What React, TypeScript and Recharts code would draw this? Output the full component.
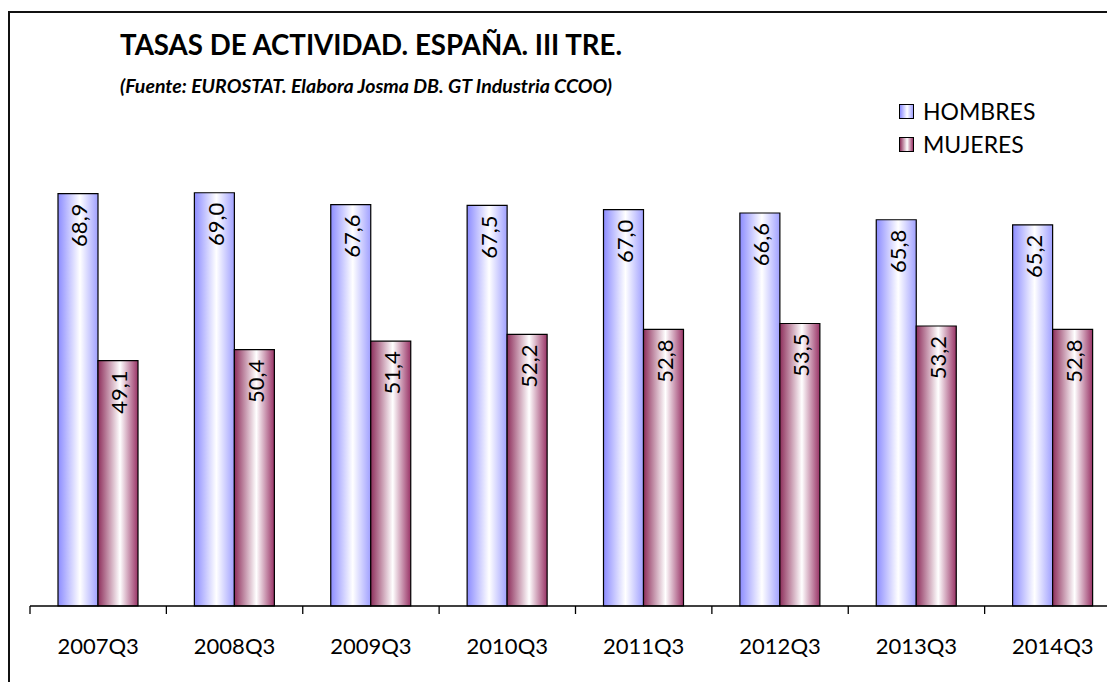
import { BarChart, Bar, XAxis, YAxis, LabelList } from 'recharts'

const periods = ['2007Q3', '2008Q3', '2009Q3', '2010Q3', '2011Q3', '2012Q3', '2013Q3', '2014Q3']
const hombres = [68.9, 69.0, 67.6, 67.5, 67.0, 66.6, 65.8, 65.2]
const mujeres = [49.1, 50.4, 51.4, 52.2, 52.8, 53.5, 53.2, 52.8]
const seriesNames = ['HOMBRES', 'MUJERES']

const data = periods.map((p, i) => ({ name: p, hombres: hombres[i], mujeres: mujeres[i] }))

const FONT = 'Lato, "Open Sans", sans-serif'
const CHART_W = 1135
const MARGIN_L = 30
const MARGIN_R = 14
const BAND = (CHART_W - MARGIN_L - MARGIN_R) / periods.length

const fmt = (v: number) => v.toFixed(1).replace('.', ',')

const BarValue = (props: any) => {
  const { x, y, width, value } = props
  const cx = x + width / 2 + 1
  const ty = y + 10
  return (
    <text
      x={cx}
      y={ty}
      transform={`rotate(-90, ${cx}, ${ty})`}
      textAnchor="end"
      dominantBaseline="central"
      fontSize={22}
      fontFamily={FONT}
      fill="#000"
    >
      {fmt(value)}
    </text>
  )
}

const PeriodTick = (props: any) => {
  const { x, y, payload } = props
  const axisY = y - 8 - 24
  return (
    <g>
      <line x1={x - BAND / 2} y1={axisY} x2={x - BAND / 2} y2={axisY + 8} stroke="#000" strokeWidth={1.3} />
      <text x={x} y={y} dy="0.71em" textAnchor="middle" fontSize={22} fontFamily={FONT} fill="#000">
        {payload.value}
      </text>
    </g>
  )
}

const legendSwatch = [
  'linear-gradient(to right, #8c8cff, #ffffff 55%, #a0a0ff)',
  'linear-gradient(to right, #8e2f5c, #ffffff 55%, #993366)',
]

export default function App() {
  return (
    <div style={{ position: 'fixed', left: 0, top: 0, width: 1107, height: 682, overflow: 'hidden', background: '#fff' }}>
      <div
        style={{
          position: 'absolute',
          left: 8,
          top: 11,
          width: 1200,
          height: 800,
          borderLeft: '2px solid #111',
          borderTop: '2px solid #111',
        }}
      />
      <svg style={{ position: 'absolute', left: 0, top: 0 }} width={700} height={100}>
        <text x={120} y={55} fontFamily={FONT} fontWeight={700} fontSize={28} textLength={502} lengthAdjust="spacingAndGlyphs">
          TASAS DE ACTIVIDAD. ESPAÑA. III TRE.
        </text>
        <text
          x={120}
          y={93}
          fontFamily={FONT}
          fontWeight={700}
          fontStyle="italic"
          fontSize={18}
          textLength={492}
          lengthAdjust="spacingAndGlyphs"
        >
          (Fuente: EUROSTAT. Elabora Josma DB. GT Industria CCOO)
        </text>
      </svg>
      <div style={{ position: 'absolute', left: 0, top: 0 }}>
        <BarChart
          width={CHART_W}
          height={682}
          data={data}
          margin={{ top: 100, right: MARGIN_R, bottom: 0, left: MARGIN_L }}
          barGap={0}
          barSize={40}
        >
          <defs>
            <linearGradient id="gradH" x1="0" y1="0" x2="1" y2="0">
              <stop offset="0%" stopColor="#8c8cff" />
              <stop offset="55%" stopColor="#ffffff" />
              <stop offset="100%" stopColor="#a0a0ff" />
            </linearGradient>
            <linearGradient id="gradM" x1="0" y1="0" x2="1" y2="0">
              <stop offset="0%" stopColor="#8e2f5c" />
              <stop offset="55%" stopColor="#ffffff" />
              <stop offset="100%" stopColor="#993366" />
            </linearGradient>
          </defs>
          <XAxis
            dataKey="name"
            height={76}
            tickLine={false}
            tickSize={8}
            tickMargin={24}
            axisLine={{ stroke: '#000', strokeWidth: 1.5 }}
            tick={<PeriodTick />}
            interval={0}
          />
          <YAxis hide domain={[20, 80]} />
          <Bar dataKey="hombres" name={seriesNames[0]} fill="url(#gradH)" stroke="#000" strokeWidth={1.2} isAnimationActive={false}>
            <LabelList dataKey="hombres" content={<BarValue />} />
          </Bar>
          <Bar dataKey="mujeres" name={seriesNames[1]} fill="url(#gradM)" stroke="#000" strokeWidth={1.2} isAnimationActive={false}>
            <LabelList dataKey="mujeres" content={<BarValue />} />
          </Bar>
        </BarChart>
      </div>
      <div style={{ position: 'absolute', left: 899, top: 95, fontFamily: FONT, fontSize: 23, color: '#000' }}>
        {seriesNames.map((n, i) => (
          <div key={n} style={{ display: 'flex', alignItems: 'center', height: 33 }}>
            <span
              style={{
                display: 'inline-block',
                width: 13,
                height: 13,
                border: '1.5px solid #000',
                background: legendSwatch[i],
                marginRight: 9,
              }}
            />
            <span style={{ lineHeight: '23px' }}>{n}</span>
          </div>
        ))}
      </div>
    </div>
  )
}
